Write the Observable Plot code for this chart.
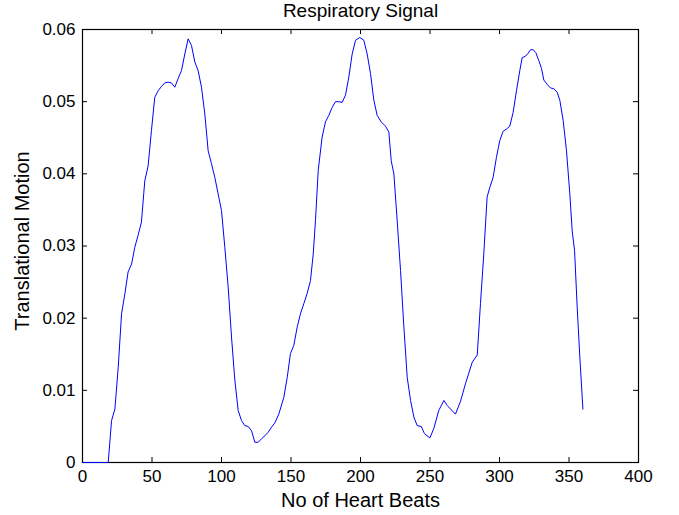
<!DOCTYPE html>
<html>
<head>
<meta charset="utf-8">
<script src="https://cdn.jsdelivr.net/npm/d3@7"></script>
<script src="https://cdn.jsdelivr.net/npm/@observablehq/plot@0.6"></script>
<style>
  html, body { margin: 0; padding: 0; background: #fff; }
  svg { font-family: Arial, "Liberation Sans", sans-serif; }
</style>
</head>
<body>
<div id="chart"></div>
<script>
const title = "Respiratory Signal";
const xLabel = "No of Heart Beats";
const yLabel = "Translational Motion";
const xTicks = [0, 50, 100, 150, 200, 250, 300, 350, 400];
const yTicks = [0, 0.01, 0.02, 0.03, 0.04, 0.05, 0.06];

const beats = [0, 18.5, 20.9, 23.3, 25.7, 28.1, 30.5, 32.8, 35.3, 37.6, 40, 42.4, 44.8, 47.2, 49.6, 52, 54.4, 56.8, 59.2, 61.6, 64, 66.4, 68.8, 71.2, 73.6, 76, 78.4, 80.8, 83.2, 85.6, 88, 90.4, 92.8, 95.2, 97.6, 100, 102.4, 104.8, 107.2, 109.6, 112, 114.4, 116.8, 119.2, 121.6, 124, 126.4, 128.8, 131.2, 133.6, 136, 138.4, 141.2, 144.8, 147.3, 149.6, 152, 154.5, 156.8, 159.2, 161.6, 164, 166, 167.6, 169.6, 172.4, 174.8, 177.2, 179.6, 182, 184.4, 186.8, 189.2, 191.6, 194, 196.4, 199.5, 202.4, 204.8, 207.2, 209.6, 212, 214.9, 218, 220.4, 222.1, 224, 226.4, 228.8, 231.2, 233.6, 236, 238.4, 240.8, 243.7, 246, 249.9, 252.7, 256.3, 260, 262.4, 268.3, 272, 275.5, 280.4, 284, 286.3, 288.7, 291.1, 293, 295.4, 297.8, 300.2, 302.6, 305, 307.4, 309.8, 312.2, 314.6, 316.3, 318.7, 320.6, 322.3, 324.2, 326.1, 328.3, 330.2, 331.9, 334.3, 336.7, 339.1, 341.5, 343.4, 345.8, 348.2, 350.6, 352.3, 354, 355.9, 357.8, 360];
const motion = [0, 0, 0.0058, 0.0074, 0.0132, 0.0206, 0.0234, 0.0264, 0.0275, 0.0298, 0.0315, 0.0333, 0.039, 0.0411, 0.046, 0.0506, 0.0515, 0.0521, 0.0526, 0.0527, 0.0526, 0.052, 0.0532, 0.0543, 0.0566, 0.0587, 0.0578, 0.0555, 0.0543, 0.052, 0.0483, 0.0432, 0.0414, 0.0395, 0.0372, 0.0349, 0.0298, 0.0243, 0.0174, 0.0114, 0.0072, 0.0058, 0.0051, 0.005, 0.0044, 0.0028, 0.0028, 0.0033, 0.0037, 0.0042, 0.0049, 0.0055, 0.0067, 0.009, 0.0118, 0.0151, 0.0162, 0.0188, 0.0206, 0.022, 0.0234, 0.0252, 0.0289, 0.0335, 0.0405, 0.0451, 0.0472, 0.0481, 0.0492, 0.05, 0.05, 0.0499, 0.0509, 0.0534, 0.0566, 0.0585, 0.0589, 0.0585, 0.0566, 0.0539, 0.0502, 0.0481, 0.0472, 0.0466, 0.0458, 0.0418, 0.04, 0.0335, 0.0266, 0.0188, 0.0118, 0.0086, 0.0063, 0.0051, 0.005, 0.004, 0.0034, 0.0047, 0.0072, 0.0086, 0.0079, 0.0067, 0.0085, 0.0109, 0.0139, 0.0149, 0.022, 0.0289, 0.0368, 0.0381, 0.0395, 0.0423, 0.0446, 0.0459, 0.0462, 0.0466, 0.0485, 0.0515, 0.0543, 0.0561, 0.0563, 0.0567, 0.0572, 0.0572, 0.0568, 0.0557, 0.0546, 0.053, 0.0524, 0.0519, 0.0518, 0.0513, 0.0502, 0.0474, 0.0432, 0.0372, 0.0321, 0.0294, 0.0215, 0.0146, 0.0074];

const data = beats.map((b, i) => ({beat: b, value: motion[i]}));

const W = 679, H = 515;
const mL = 82, mR = 41, mT = 29, mB = 53;
const fw = W - mL - mR, fh = H - mT - mB;
const tk = 5;

const chart = Plot.plot({
  width: W,
  height: H,
  marginLeft: mL,
  marginRight: mR,
  marginTop: mT,
  marginBottom: mB,
  style: {fontFamily: "Arial, 'Liberation Sans', sans-serif", fontSize: "17px", color: "#000", background: "#fff"},
  x: {domain: [0, 400], ticks: xTicks},
  y: {domain: [0, 0.06], ticks: yTicks},
  marks: [
    // inward ticks (bottom, top, left, right)
    Plot.gridX(xTicks, {stroke: "#000", strokeOpacity: 1, insetTop: fh - tk}),
    Plot.gridX(xTicks, {stroke: "#000", strokeOpacity: 1, insetBottom: fh - tk}),
    Plot.gridY(yTicks, {stroke: "#000", strokeOpacity: 1, insetRight: fw - tk}),
    Plot.gridY(yTicks, {stroke: "#000", strokeOpacity: 1, insetLeft: fw - tk}),
    Plot.axisX(xTicks, {tickSize: 0, tickPadding: 7, label: null, fontSize: 17, letterSpacing: -0.4}),
    Plot.axisY(yTicks, {tickSize: 0, tickPadding: 7, label: null, fontSize: 17, letterSpacing: -0.4,
      tickFormat: d => d === 0 ? "0" : d.toFixed(2)}),
    Plot.frame({stroke: "#000", strokeWidth: 1.2}),
    Plot.line(data, {x: "beat", y: "value", stroke: "#0000ff", strokeWidth: 1}),
    Plot.text([title], {text: d => d, frameAnchor: "top", lineAnchor: "middle", textAnchor: "middle",
      dy: -19, fontSize: 19, letterSpacing: -0.4}),
    Plot.text([xLabel], {text: d => d, frameAnchor: "bottom", lineAnchor: "middle", textAnchor: "middle",
      dy: 38, fontSize: 20, letterSpacing: -0.4}),
    Plot.text([yLabel], {text: d => d, frameAnchor: "left", lineAnchor: "middle", textAnchor: "middle",
      dx: -60, dy: -5, rotate: -90, fontSize: 20, letterSpacing: -0.4})
  ]
});

document.getElementById("chart").appendChild(chart);
</script>
</body>
</html>
